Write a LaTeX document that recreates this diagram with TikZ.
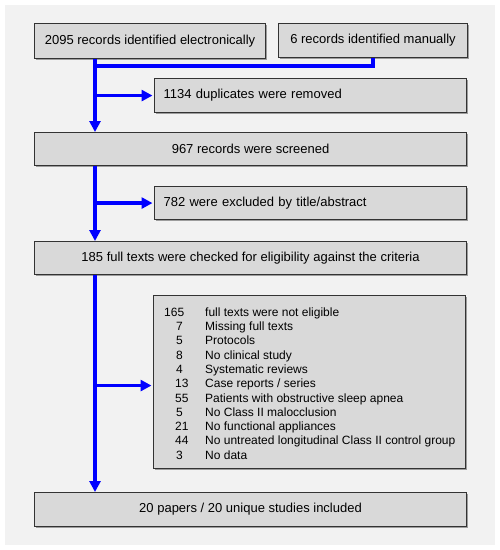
\documentclass[tikz,border=0pt]{standalone}
\usepackage{fontspec}
\setmainfont{Liberation Sans}
\usetikzlibrary{arrows.meta,shadows,calc}
\definecolor{bgc}{HTML}{F2F2F2}
\definecolor{boxfill}{HTML}{D9D9D9}
\definecolor{boxline}{HTML}{333333}
\definecolor{flow}{HTML}{0000FF}
\tikzset{
  box/.style={draw=boxline, line width=1.1pt, fill=boxfill, inner sep=0pt,
    anchor=north west, font=\fontsize{13}{15}\selectfont,
    drop shadow={shadow xshift=1.5pt, shadow yshift=-1.5pt, fill=black, opacity=0.35}},
  flowline/.style={draw=flow, line width=3.6pt},
  flowarrow/.style={flowline, -{Triangle[length=11pt,width=11pt]}},
}
\begin{document}
\begin{tikzpicture}[x=1pt,y=1pt]
\useasboundingbox (0,0) rectangle (500,-550);
\fill[bgc] (5,-5) rectangle (495,-545);
\coordinate (t) at (95,0);
% boxes
\node[box, minimum width=231pt, minimum height=35pt] (elec) at (34,-23) {2095 records identified electronically};
\node[box, minimum width=189pt, minimum height=34pt] (man) at (278,-23) {6 records identified manually};
\node[box, minimum width=312pt, minimum height=34pt, text width=294pt, align=left] (dup) at (154,-78) {1134 duplicates were removed};
\node[box, minimum width=432pt, minimum height=33pt] (scr) at (34,-132) {967 records were screened};
\node[box, minimum width=312pt, minimum height=33pt, text width=294pt, align=left] (exc) at (154,-186) {782 were excluded by title/abstract};
\node[box, minimum width=432pt, minimum height=33pt] (full) at (34,-241) {185 full texts were checked for eligibility against the criteria};
\node[box, minimum width=312pt, minimum height=173pt] (ne) at (153,-295) {};
\node[anchor=north west, inner sep=0pt, font=\fontsize{12}{14.3}\selectfont] (nelist) at (164,-306) {%
  \renewcommand{\arraystretch}{1}%
  \begin{tabular}{@{}p{41pt}@{}l@{}}
  165 & full texts were not eligible\\
  \hspace*{12pt}7 & Missing full texts\\
  \hspace*{12pt}5 & Protocols\\
  \hspace*{12pt}8 & No clinical study\\
  \hspace*{12pt}4 & Systematic reviews\\
  \hspace*{11pt}13 & Case reports / series\\
  \hspace*{11pt}55 & Patients with obstructive sleep apnea\\
  \hspace*{12pt}5 & No Class II malocclusion\\
  \hspace*{11pt}21 & No functional appliances\\
  \hspace*{11pt}44 & No untreated longitudinal Class II control group\\
  \hspace*{12pt}3 & No data
  \end{tabular}};
\node[box, minimum width=432pt, minimum height=34pt] (inc) at (34,-492) {20 papers / 20 unique studies included};
% connectors
\coordinate (j1) at (0,-66);
\coordinate (neIn) at ($(ne.west)+(0,-3.5)$);
\draw[flowline] (man.south) -- (man.south |- j1) -- (t |- j1);
\draw[flowarrow] (t |- elec.south) -- (t |- scr.north);
\draw[flowarrow, shorten >=1.5pt] (t |- dup.west) -- (dup.west);
\draw[flowarrow] (t |- scr.south) -- (t |- full.north);
\draw[flowarrow, shorten >=1.5pt] (t |- exc.west) -- (exc.west);
\draw[flowarrow] (t |- full.south) -- (t |- inc.north);
\draw[flowarrow, shorten >=1.5pt] (t |- neIn) -- (neIn);
\end{tikzpicture}
\end{document}
